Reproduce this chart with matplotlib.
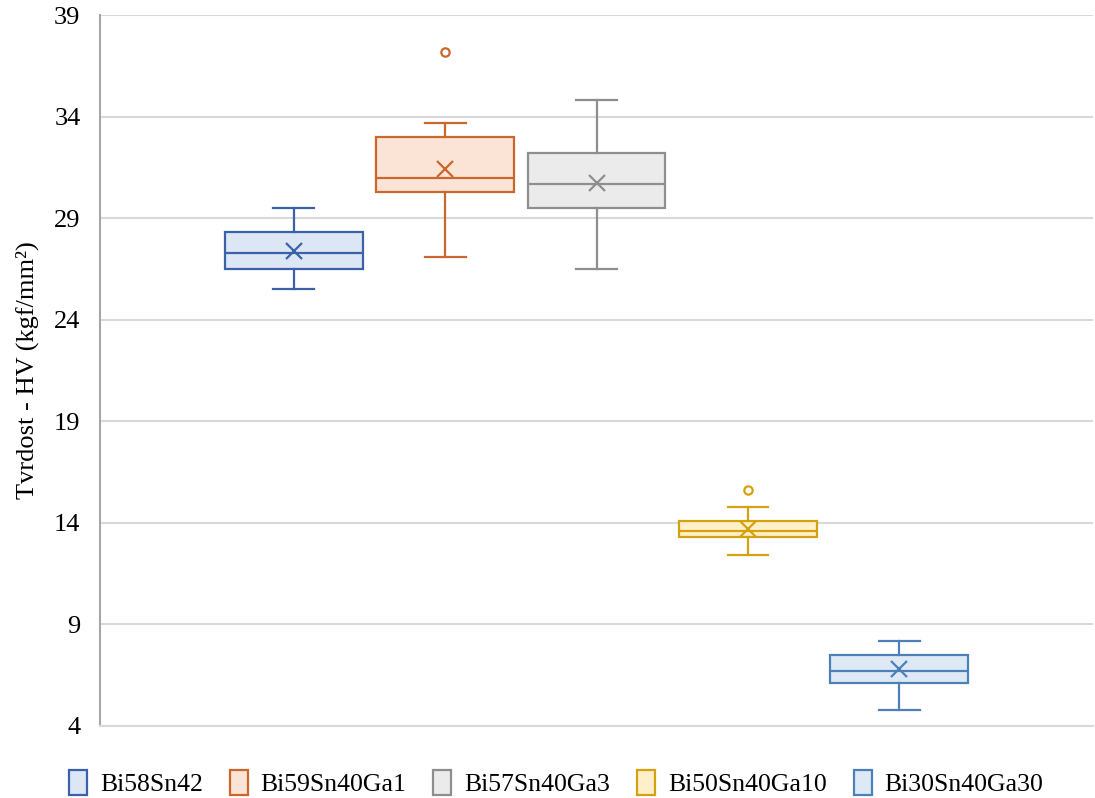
import matplotlib.pyplot as plt
from matplotlib.patches import Patch

plt.rcParams['font.family'] = ['Liberation Serif', 'DejaVu Serif']

# Slitine i statistika tvrdosti (HV)
alloys = ["Bi58Sn42", "Bi59Sn40Ga1", "Bi57Sn40Ga3", "Bi50Sn40Ga10", "Bi30Sn40Ga30"]
whisker_low = [25.5, 27.1, 26.5, 12.4, 4.8]
q1 = [26.5, 30.3, 29.5, 13.3, 6.1]
median = [27.3, 31.0, 30.7, 13.6, 6.7]
mean = [27.4, 31.4, 30.75, 13.7, 6.8]
q3 = [28.3, 33.0, 32.2, 14.1, 7.5]
whisker_high = [29.5, 33.7, 34.8, 14.8, 8.2]
outliers = [[], [37.2], [], [15.6], []]

edge_colors = ["#3B62A9", "#C9672C", "#8E8E8E", "#D6A10F", "#4D80B9"]
fill_colors = ["#DCE6F4", "#FBE3D6", "#EBEBEB", "#FFF0C9", "#DEE9F6"]

fig = plt.figure(figsize=(10.95, 7.98), dpi=100)
ax = fig.add_axes([0.0913, 0.0905, 0.907, 0.8905])

for i, name in enumerate(alloys):
    stats = [{
        "label": name,
        "whislo": whisker_low[i],
        "q1": q1[i],
        "med": median[i],
        "mean": mean[i],
        "q3": q3[i],
        "whishi": whisker_high[i],
        "fliers": outliers[i],
    }]
    ec = edge_colors[i]
    ax.bxp(
        stats, positions=[i], widths=0.91, capwidths=0.27,
        patch_artist=True, showmeans=True, showfliers=True,
        boxprops=dict(facecolor=fill_colors[i], edgecolor=ec, linewidth=1.6),
        medianprops=dict(color=ec, linewidth=1.6),
        whiskerprops=dict(color=ec, linewidth=1.6),
        capprops=dict(color=ec, linewidth=1.6),
        meanprops=dict(marker="x", markeredgecolor=ec, markersize=12,
                       markeredgewidth=1.6),
        flierprops=dict(marker="o", markerfacecolor="white", markeredgecolor=ec,
                        markersize=6, markeredgewidth=1.6),
        zorder=3,
    )

ax.set_xlim(-1.28, 5.28)
ax.set_ylim(4, 39)
ax.set_yticks(range(4, 40, 5))
ax.set_xticks([])
ax.tick_params(axis="y", length=0, labelsize=19, pad=14)
ax.yaxis.grid(True, color="#D9D9D9", linewidth=1.5, zorder=0)
ax.set_axisbelow(True)

for side in ["top", "right"]:
    ax.spines[side].set_visible(False)
ax.spines["left"].set_color("#A6A6A6")
ax.spines["left"].set_linewidth(1.5)
ax.spines["bottom"].set_color("#D9D9D9")
ax.spines["bottom"].set_linewidth(1.5)

ax.set_ylabel("Tvrdost - HV (kgf/mm²)", fontsize=19, labelpad=11)

handles = [Patch(facecolor=fill_colors[i], edgecolor=edge_colors[i], linewidth=1.6, label=alloys[i])
           for i in range(len(alloys))]
fig.legend(handles=handles, loc="lower center", bbox_to_anchor=(0.508, -0.027), ncol=5,
           frameon=False, fontsize=18.5, handlelength=0.7, handleheight=1.1,
           handletextpad=0.5, columnspacing=1.05)

fig.savefig("out.png", dpi=100)
